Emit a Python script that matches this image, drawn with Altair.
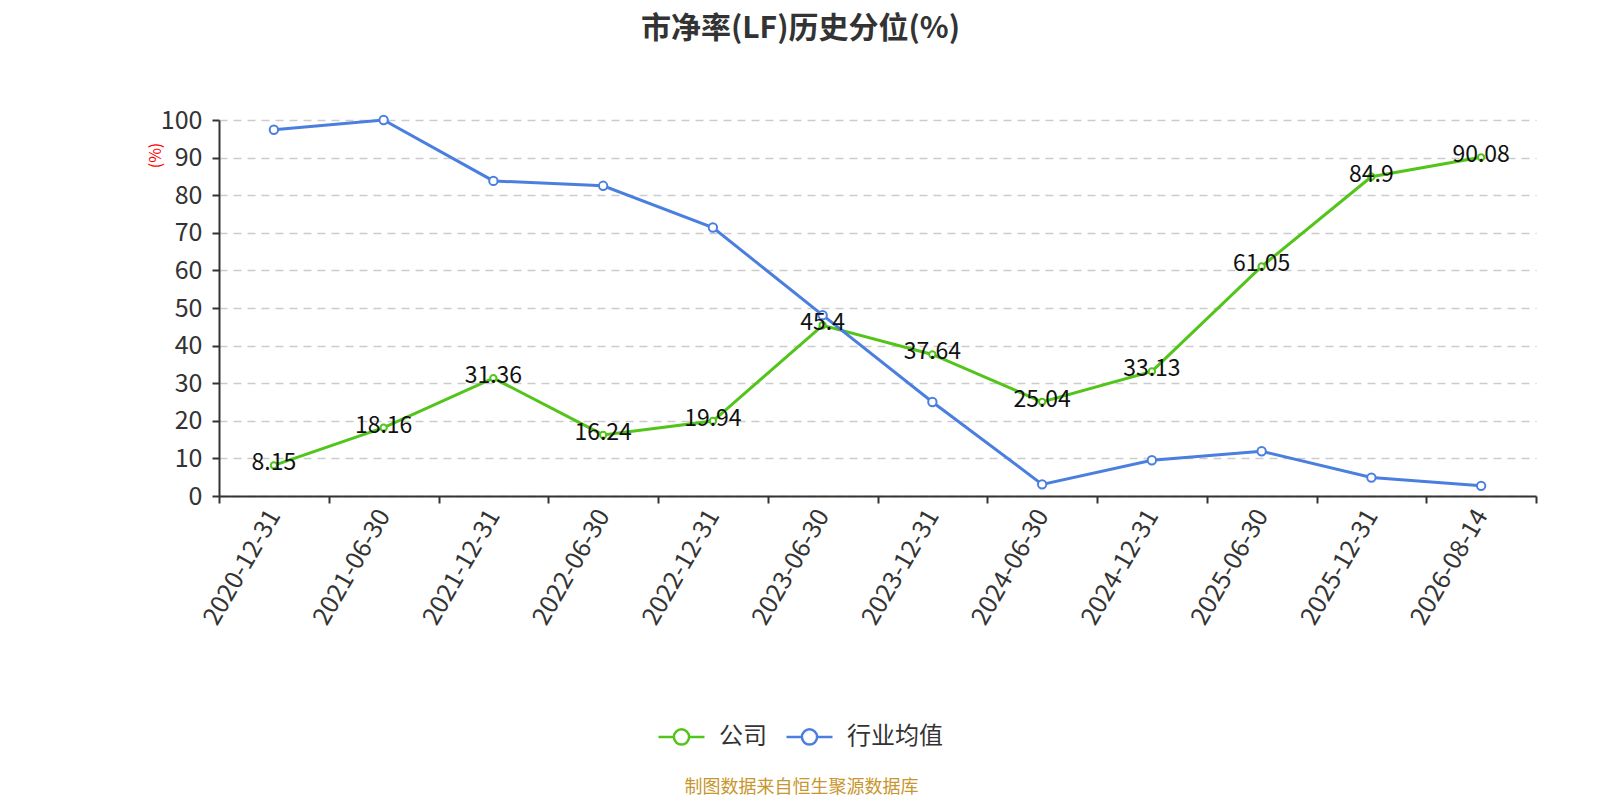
import altair as alt
import pandas as pd

dates = ["2020-12-31", "2021-06-30", "2021-12-31", "2022-06-30", "2022-12-31", "2023-06-30",
         "2023-12-31", "2024-06-30", "2024-12-31", "2025-06-30", "2025-12-31", "2026-08-14"]
company = [8.15, 18.16, 31.36, 16.24, 19.94, 45.4, 37.64, 25.04, 33.13, 61.05, 84.9, 90.08]
industry = [97.4, 100.0, 83.8, 82.5, 71.4, 48.1, 25.0, 3.1, 9.5, 11.9, 4.9, 2.7]
series_names = ["公司", "行业均值"]
colors = ["#52c41a", "#4a7fe0"]
company_labels = ["8.15", "18.16", "31.36", "16.24", "19.94", "45.4", "37.64", "25.04",
                  "33.13", "61.05", "84.9", "90.08"]
y_ticks = [0, 10, 20, 30, 40, 50, 60, 70, 80, 90, 100]

rows = []
for d, c, i, lab in zip(dates, company, industry, company_labels):
    rows.append({"date": d, "series": series_names[0], "value": c, "label": lab})
    rows.append({"date": d, "series": series_names[1], "value": i, "label": ""})
df = pd.DataFrame(rows)

FONT = "Noto Sans CJK SC"
W, H = 1317, 376

x_enc = alt.X(
    "date:O", sort=dates,
    scale=alt.Scale(type="band", paddingInner=0, paddingOuter=0),
    axis=alt.Axis(
        title="制图数据来自恒生聚源数据库", titleColor="#c8962e", titleFontSize=18,
        titleFontWeight="normal", titleFont=FONT, titleX=582, titleY=291,
        titleAlign="center", titleBaseline="middle", titleAngle=0,
        labelAngle=300, labelAlign="right", labelBaseline="middle", labelFontSize=25,
        labelColor="#333333", labelFont=FONT, labelPadding=8, labelOverlap=False,
        tickBand="extent", tickSize=7, tickColor="#333333", tickWidth=2,
        domainColor="#333333", domainWidth=2, grid=False,
    ),
)
y_enc = alt.Y(
    "value:Q",
    scale=alt.Scale(domain=[0, 100], nice=False, zero=True),
    axis=alt.Axis(
        values=y_ticks, tickCount=len(y_ticks) + 1, labelOverlap=False,
        title="(%)", titleColor="#ff0000", titleFontSize=16, titleFontWeight="normal",
        titleFont=FONT, titleAngle=270, titleX=-64, titleY=35,
        titleAlign="center", titleBaseline="middle",
        labelFontSize=25, labelColor="#333333", labelFont=FONT, labelPadding=10,
        tickSize=7, tickColor="#333333", tickWidth=2,
        domainColor="#333333", domainWidth=2,
        grid=True, gridDash=[8, 6], gridColor="#cccccc", gridWidth=1.5,
    ),
)

legend_path = ("M-1,0L-0.33,0M0.33,0L1,0"
               "M-0.33,0A0.33,0.33,0,1,0,0.33,0A0.33,0.33,0,1,0,-0.33,0Z")

color_enc = alt.Color(
    "series:N",
    scale=alt.Scale(domain=series_names, range=colors),
    legend=alt.Legend(
        title=None, orient="none", direction="horizontal", legendX=438, legendY=592,
        symbolType=legend_path, symbolSize=2116, symbolStrokeWidth=2.5,
        symbolFillColor="white", labelFontSize=24, labelFont=FONT, labelColor="#333333",
        labelOffset=13, columnPadding=14,
    ),
)
stroke_enc = alt.Stroke(
    "series:N",
    scale=alt.Scale(domain=series_names, range=colors),
    legend=None,
)

line = alt.Chart(df).mark_line(strokeWidth=3).encode(x=x_enc, y=y_enc, color=color_enc)
points = alt.Chart(df).mark_point(
    filled=False, fill="white", fillOpacity=1, opacity=1, strokeWidth=2
).encode(
    x=x_enc, y=y_enc, stroke=stroke_enc,
    size=alt.Size("series:N", scale=alt.Scale(domain=series_names, range=[40, 70]), legend=None),
)
labels = alt.Chart(df).transform_filter(
    alt.datum.series == series_names[0]
).mark_text(fontSize=23, font=FONT, color="#111111", baseline="middle", dy=-2).encode(
    x=x_enc, y=y_enc, text="label:N"
)

chart = alt.layer(line, points, labels).resolve_scale(
    color="independent", stroke="independent"
).properties(
    width=W, height=H,
    title=alt.TitleParams(
        "市净率(LF)历史分位(%)", font=FONT, fontSize=30, fontWeight="bold", color="#333333",
        anchor="middle", frame="group", dx=-77, offset=64,
    ),
    autosize=alt.AutoSizeParams(type="none"),
    padding={"left": 211, "top": 112, "right": 56, "bottom": 300},
).configure(background="white", view=alt.ViewConfig(stroke=None))

chart.save("out.html", embed_options={"renderer": "svg", "actions": False})
